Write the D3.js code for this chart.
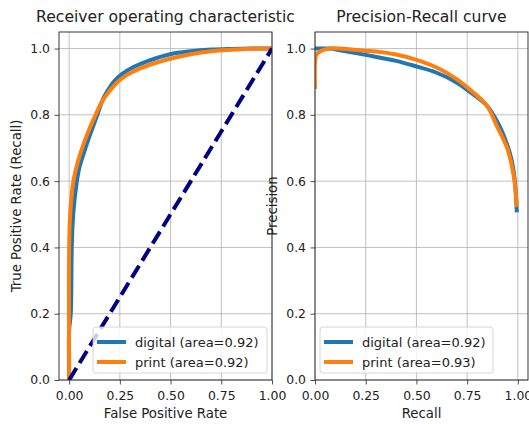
<!DOCTYPE html>
<html><head><meta charset="utf-8">
<script src="https://cdn.jsdelivr.net/npm/d3@7"></script>
<style>body{margin:0;background:#fff}svg{display:block;font-family:"DejaVu Sans",sans-serif}</style>
</head><body><svg id="c" width="529" height="424"></svg>
<script>
// ROC data
const rocDigitalFpr = [0,0.0,0.008,0.013,0.02,0.038,0.05,0.07,0.1,0.139,0.165,0.19,0.22,0.26,0.32,0.39,0.497,0.6,0.7,0.8,0.9,1];
const rocDigitalTpr = [0,0.15,0.2,0.4,0.5,0.6,0.64,0.68,0.735,0.8,0.845,0.873,0.9,0.923,0.945,0.963,0.983,0.992,0.997,0.999,1,1];
const rocPrintFpr = [0,0,0.005,0.021,0.04,0.07,0.1,0.128,0.16,0.194,0.24,0.284,0.35,0.448,0.55,0.65,0.75,0.85,0.93,1];
const rocPrintTpr = [0,0.4,0.5,0.6,0.652,0.71,0.758,0.797,0.838,0.868,0.9,0.92,0.94,0.961,0.977,0.988,0.995,0.998,1,1];
// PR data
const prDigitalRecall = [0,0.074,0.123,0.25,0.4,0.5,0.6,0.7,0.75,0.847,0.896,0.946,0.97,0.985,0.995];
const prDigitalPrecision = [1.0,1.0,0.995,0.981,0.963,0.946,0.927,0.897,0.875,0.828,0.782,0.712,0.662,0.60,0.506];
const prPrintRecall = [0,0.005,0.016,0.074,0.25,0.3,0.4,0.5,0.6,0.7,0.75,0.847,0.896,0.946,0.97,0.985,0.995];
const prPrintPrecision = [0.878,0.98,0.988,1.0,0.993,0.991,0.982,0.966,0.943,0.907,0.883,0.828,0.767,0.702,0.647,0.593,0.522];
const xTicks = [0,0.25,0.5,0.75,1.0];
const yTicks = [0,0.2,0.4,0.6,0.8,1.0];
const rocLegend = ["digital (area=0.92)","print (area=0.92)"];
const prLegend = ["digital (area=0.92)","print (area=0.93)"];
const colors = ["#1f77b4","#ff7f0e"];

const svg = d3.select("#c");
const zip = (a,b)=>a.map((v,i)=>[v,b[i]]);

function panel(opt){
  const {left,right,top,bottom,xdom,title,xlabel,ylabel,ylabelX,series,legend,legendBox,diag,id} = opt;
  const x = d3.scaleLinear().domain(xdom).range([left,right]);
  const y = d3.scaleLinear().domain([0,1.05]).range([bottom,top]);
  const g = svg.append("g");
  g.append("clipPath").attr("id",id).append("rect").attr("x",left).attr("y",top).attr("width",right-left).attr("height",bottom-top);
  // grid
  g.selectAll(".gx").data(xTicks).join("line").attr("x1",d=>x(d)).attr("x2",d=>x(d)).attr("y1",top).attr("y2",bottom).attr("stroke","#b0b0b0").attr("stroke-width",0.8);
  g.selectAll(".gy").data(yTicks).join("line").attr("y1",d=>y(d)).attr("y2",d=>y(d)).attr("x1",left).attr("x2",right).attr("stroke","#b0b0b0").attr("stroke-width",0.8);
  const line = d3.line().x(d=>x(d[0])).y(d=>y(d[1])).curve(d3.curveCatmullRom.alpha(0.5));
  const cg = g.append("g").attr("clip-path",`url(#${id})`);
  series.forEach((s,i)=>{
    cg.append("path").attr("d",line(s)).attr("fill","none").attr("stroke",colors[i]).attr("stroke-width",4).attr("stroke-linejoin","round");
  });
  if(diag){
    cg.append("path").attr("d",line([[0,0],[1,1]])).attr("fill","none").attr("stroke","#000080").attr("stroke-width",4).attr("stroke-dasharray","14,6");
  }
  // axes
  const ax = g.append("g").attr("transform",`translate(0,${bottom})`).call(d3.axisBottom(x).tickValues(xTicks).tickFormat(d3.format(".2f")).tickSize(4.5).tickPadding(7));
  const ay = g.append("g").attr("transform",`translate(${left},0)`).call(d3.axisLeft(y).tickValues(yTicks).tickFormat(d3.format(".1f")).tickSize(4.5).tickPadding(4.5));
  [ax,ay].forEach(a=>{a.select(".domain").remove();a.selectAll("text").attr("font-size",12.4).attr("fill","#222").attr("font-family","DejaVu Sans");a.selectAll("line").attr("stroke","#222").attr("stroke-width",0.8);});
  g.append("rect").attr("x",left).attr("y",top).attr("width",right-left).attr("height",bottom-top).attr("fill","none").attr("stroke","#222").attr("stroke-width",0.9);
  g.append("text").attr("x",(left+right)/2).attr("y",22).attr("text-anchor","middle").attr("font-size",15.6).attr("fill","#222").text(title);
  g.append("text").attr("x",(left+right)/2).attr("y",417.5).attr("text-anchor","middle").attr("font-size",13.3).attr("fill","#222").text(xlabel);
  g.append("text").attr("transform",`translate(${ylabelX},${(top+bottom)/2}) rotate(-90)`).attr("text-anchor","middle").attr("font-size",13.3).attr("fill","#222").text(ylabel);
  // legend
  const [lx0,ly0,lx1,ly1] = legendBox;
  g.append("rect").attr("x",lx0).attr("y",ly0).attr("width",lx1-lx0).attr("height",ly1-ly0).attr("rx",3).attr("fill","#fff").attr("fill-opacity",0.8).attr("stroke","#ccc").attr("stroke-width",0.8);
  legend.forEach((t,i)=>{
    const yy = ly0+15+i*20;
    g.append("line").attr("x1",lx0+4).attr("x2",lx0+33).attr("y1",yy).attr("y2",yy).attr("stroke",colors[i]).attr("stroke-width",4);
    g.append("text").attr("x",lx0+42).attr("y",yy+4.5).attr("font-size",13).attr("fill","#222").text(t);
  });
}

panel({id:"c1",left:59,right:272,top:32,bottom:380,xdom:[-0.05,1.0],title:"Receiver operating characteristic",xlabel:"False Positive Rate",ylabel:"True Positive Rate (Recall)",ylabelX:20.5,
  series:[zip(rocDigitalFpr,rocDigitalTpr),zip(rocPrintFpr,rocPrintTpr)],legend:rocLegend,legendBox:[93,327,267,373],diag:true});
panel({id:"c2",left:315,right:528,top:32,bottom:380,xdom:[0,1.05],title:"Precision-Recall curve",xlabel:"Recall",ylabel:"Precision",ylabelX:277,
  series:[zip(prDigitalRecall,prDigitalPrecision),zip(prPrintRecall,prPrintPrecision)],legend:prLegend,legendBox:[320,327,493,373],diag:false});
</script></body></html>
